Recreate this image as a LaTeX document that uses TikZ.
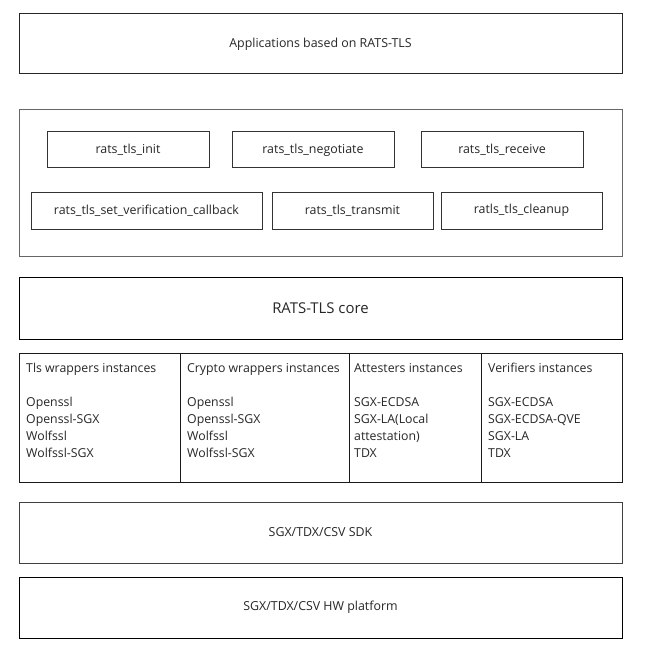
\documentclass[tikz,border=0pt]{standalone}
\usepackage{fontspec}
\setmainfont{Open Sans}
\usepackage{tikz}
\usetikzlibrary{positioning}

\begin{document}
\begin{tikzpicture}[x=1pt, y=-1pt,
  layer/.style={draw=black!85, line width=1pt, minimum width=603pt, outer sep=0pt,
    font=\fontsize{12.4}{15}\selectfont, text=black!85},
  apibox/.style={draw=black!80, line width=1pt, minimum width=161pt, outer sep=0pt,
    minimum height=36pt, font=\fontsize{12.4}{15}\selectfont, text=black!85},
  cell/.style={draw=black!90, line width=1pt, minimum height=129pt, outer sep=0pt},
  celltext/.style={anchor=north west, align=left, inner sep=0pt,
    font=\fontsize{12.3}{17}\selectfont, text=black!85}]
\useasboundingbox (0,0) rectangle (645,655);

% Applications layer
\node[layer, minimum height=60pt] (apps) at (320.5,44) {Applications based on RATS-TLS};

% API layer
\node[layer, draw=black!60, minimum height=146pt] (api) at (320.5,183) {};
\node[apibox, minimum width=162pt] (init) at (128,150) {rats\_tls\_init};
\node[apibox, minimum width=162pt, right=23pt of init] (negotiate) {rats\_tls\_negotiate};
\node[apibox, minimum width=162pt, right=27pt of negotiate] (receive) {rats\_tls\_receive};

\node[apibox, minimum width=231pt, minimum height=37pt] (callback) at (146.5,210.5) {rats\_tls\_set\_verification\_callback};
\node[apibox, minimum height=37pt, right=10pt of callback] (transmit) {rats\_tls\_transmit};
\node[apibox, minimum height=37pt, right=8pt of transmit] (cleanup) {ratls\_tls\_cleanup};

% Core layer
\node[layer, draw=black, minimum height=62pt, font=\fontsize{14.9}{18}\selectfont] (core) at (320.5,308) {RATS-TLS core};

% Instances
\node[cell, minimum width=161pt] (tls) at (99.5,417.5) {};
\node[cell, minimum width=169pt, right=0pt of tls] (crypto) {};
\node[cell, minimum width=132pt, right=0pt of crypto] (attesters) {};
\node[cell, minimum width=141pt, right=0pt of attesters] (verifiers) {};

\node[celltext] (tlstext) at ([xshift=7pt, yshift=-10pt]tls.north west)
  {Tls wrappers instances\\[17pt]Openssl\\Openssl-SGX\\Wolfssl\\Wolfssl-SGX};
\node[celltext] (cryptotext) at ([xshift=7pt, yshift=-10pt]crypto.north west)
  {Crypto wrappers instances\\[17pt]Openssl\\Openssl-SGX\\Wolfssl\\Wolfssl-SGX};
\node[celltext] (attesterstext) at ([xshift=5pt, yshift=-10pt]attesters.north west)
  {Attesters instances\\[17pt]SGX-ECDSA\\SGX-LA(Local\\attestation)\\TDX};
\node[celltext] (verifierstext) at ([xshift=7pt, yshift=-10pt]verifiers.north west)
  {Verifiers instances\\[17pt]SGX-ECDSA\\SGX-ECDSA-QVE\\SGX-LA\\TDX};

% SDK and hardware
\node[layer, draw=black!75, minimum height=61pt] (sdk) at (320.5,532.5) {SGX/TDX/CSV SDK};
\node[layer, draw=black, minimum height=61pt] (hw) at (320.5,607.5) {SGX/TDX/CSV HW platform};
\end{tikzpicture}
\end{document}
